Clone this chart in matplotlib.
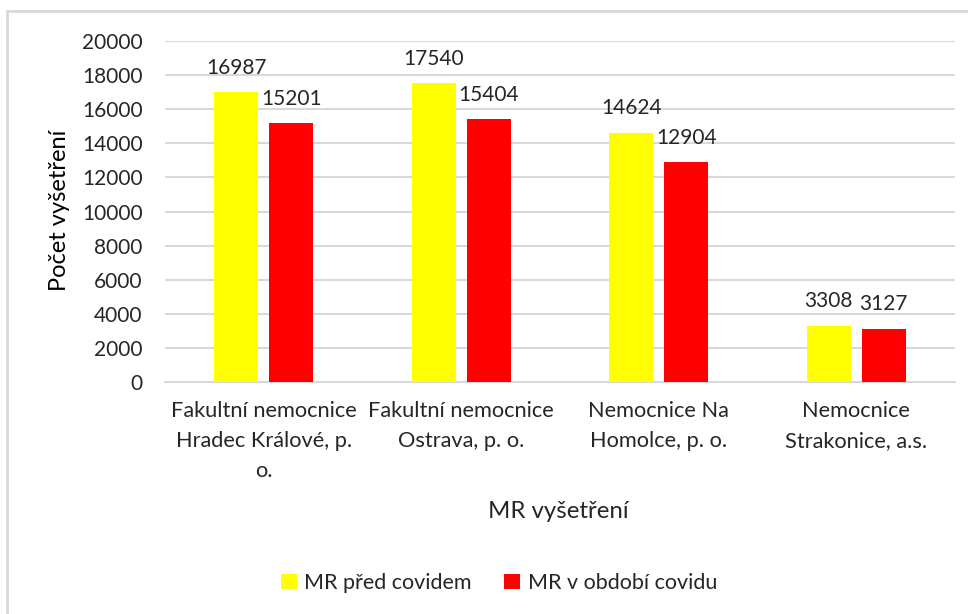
import matplotlib
matplotlib.use("Agg")
import matplotlib.pyplot as plt
import numpy as np
from matplotlib.patches import Rectangle, Patch

categories = ["Fakultní nemocnice\nHradec Králové, p.\no.",
              "Fakultní nemocnice\nOstrava, p. o.",
              "Nemocnice Na\nHomolce, p. o.",
              "Nemocnice\nStrakonice, a.s."]
series_names = ["MR před covidem", "MR v období covidu"]
pred_covidem = [16987, 17540, 14624, 3308]
obdobi_covidu = [15201, 15404, 12904, 3127]
y_ticks = [0, 2000, 4000, 6000, 8000, 10000, 12000, 14000, 16000, 18000, 20000]
colors = ["#FFFF00", "#FF0000"]

plt.rcParams['font.family'] = ['Lato', 'DejaVu Sans']
txt = '#262626'
W, H = 968, 614
fig = plt.figure(figsize=(W / 100, H / 100), dpi=100)
ax = fig.add_axes([165 / W, 1 - 382 / H, (955 - 165) / W, (382 - 41) / H])

x = np.arange(len(categories))
bw = 0.223
off = 0.14
for vals, c, dx, name in [(pred_covidem, colors[0], -off, series_names[0]),
                          (obdobi_covidu, colors[1], off, series_names[1])]:
    bars = ax.bar(x + dx, vals, width=bw, color=c, zorder=3, label=name)
    for b, v in zip(bars, vals):
        ax.annotate(str(v), (b.get_x() + b.get_width() / 2, v), xytext=(0, 17.5),
                    textcoords='offset points', ha='center', va='center',
                    fontsize=15, color=txt)

ax.set_xlim(-0.5, len(categories) - 0.5)
ax.set_ylim(0, 20000)
ax.set_yticks(y_ticks)
ax.set_yticklabels([str(t) for t in y_ticks])
ax.set_xticks(x)
ax.set_xticklabels(categories, linespacing=1.62)
ax.tick_params(axis='y', length=0, pad=16, labelsize=15, labelcolor=txt)
ax.tick_params(axis='x', length=0, pad=14, labelsize=15.7, labelcolor=txt)
ax.grid(axis='y', color='#d9d9d9', linewidth=1.5, zorder=0)
for s in ['top', 'right', 'left']:
    ax.spines[s].set_visible(False)
ax.spines['bottom'].set_color('#d9d9d9')
ax.spines['bottom'].set_linewidth(1.5)

fig.text(60 / W, 1 - 210 / H, "Počet vyšetření", rotation=90, ha='center', va='center',
         fontsize=17, color='black')
fig.text(558 / W, 1 - 512 / H, "MR vyšetření", ha='center', va='center',
         fontsize=17.3, color=txt)

handles = [Patch(facecolor=colors[0]), Patch(facecolor=colors[1])]
fig.legend(handles, series_names, loc='center', bbox_to_anchor=(499 / W, 1 - 583 / H),
           ncol=2, frameon=False, fontsize=15.5, handlelength=0.75, handleheight=0.75,
           handletextpad=0.35, columnspacing=1.5, labelcolor=txt)

fig.add_artist(Rectangle((7 / W, -0.1), 1.2, (1 - 11 / H) + 0.1, transform=fig.transFigure,
                         fill=False, edgecolor='#d9d9d9', linewidth=2))

fig.savefig("out.png", dpi=100)
